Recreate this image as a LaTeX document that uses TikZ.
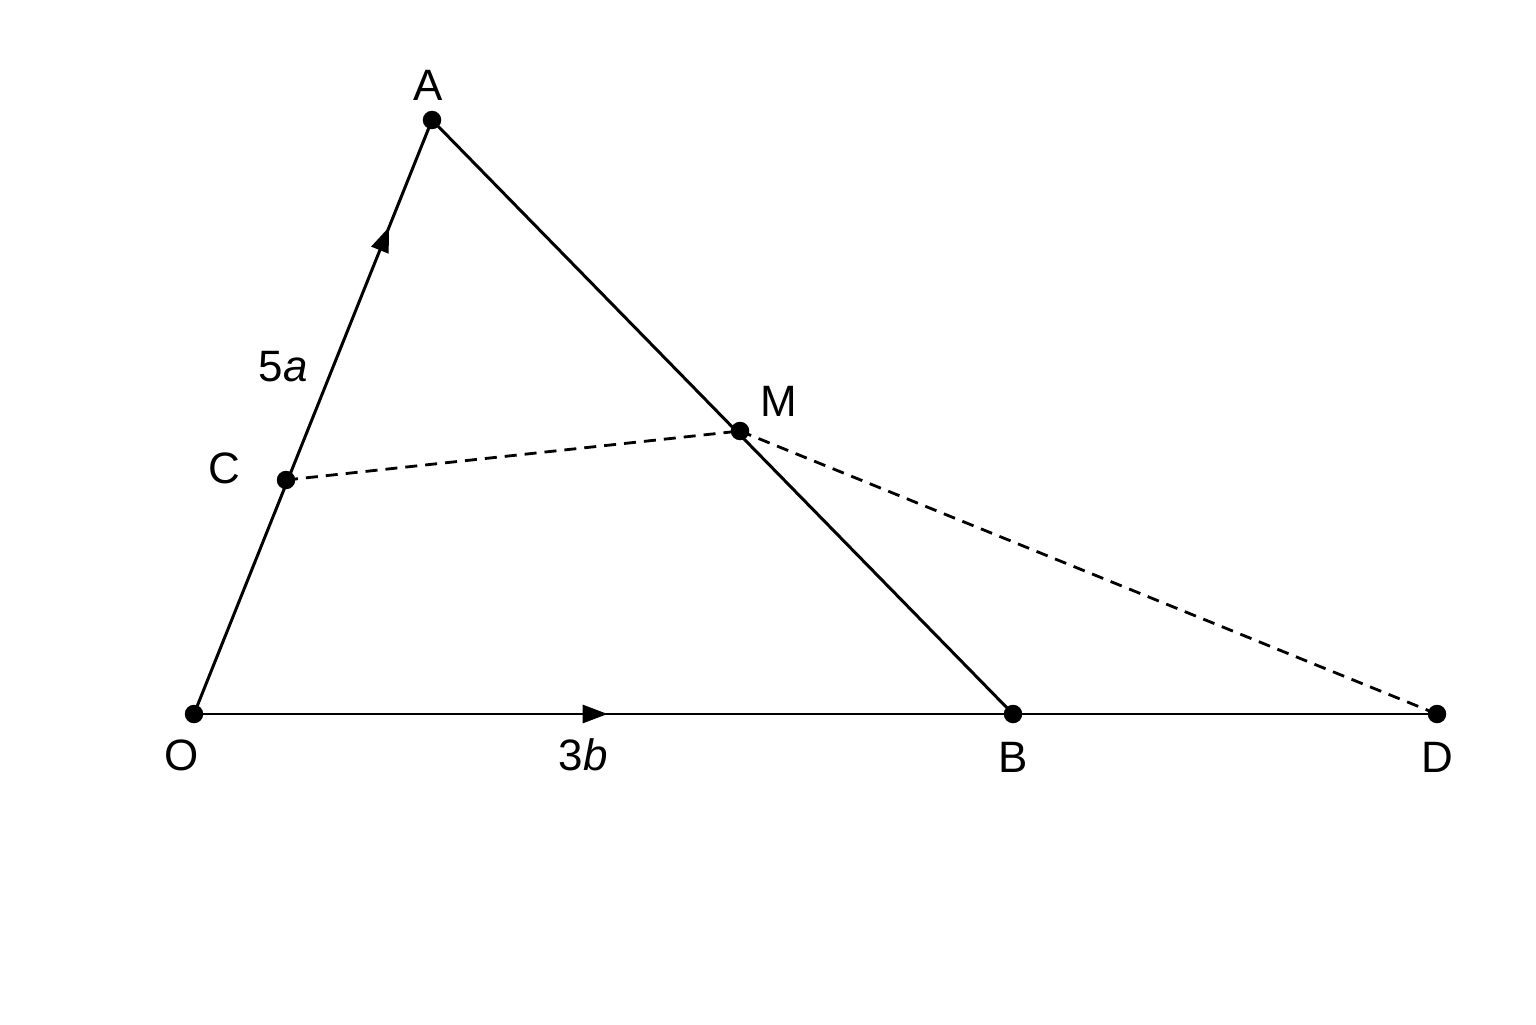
\documentclass[tikz,border=0pt]{standalone}
\usepackage{fontspec}
\setmainfont{Liberation Sans}
\usetikzlibrary{arrows.meta,decorations.markings}
\begin{document}
\begin{tikzpicture}[
  pt/.style={circle,fill=black,inner sep=0pt,minimum size=0.185cm},
  lbl/.style={font=\fontsize{12.5}{14}\selectfont,inner sep=0pt},
  seg/.style={line width=0.85pt},
  dsh/.style={line width=0.8pt,dash pattern=on 0.12cm off 0.08cm},
  midarrow/.style={postaction={decorate,decoration={markings,
     mark=at position #1 with {\arrow{Triangle[length=0.25cm,width=0.18cm]}}}}}
]
\useasboundingbox (0,0) rectangle (15.36,10.24);
\fill[white] (0,0) rectangle (15.36,10.24);
\coordinate (O) at (1.94,3.10);
\coordinate (A) at (4.32,9.04);
\coordinate (B) at (10.13,3.10);
\coordinate (D) at (14.37,3.10);
\coordinate (C) at (2.86,5.44);
\coordinate (M) at (7.40,5.93);
% lines
\draw[seg,midarrow=0.82] (O) -- (A);
\draw[seg] (A) -- (B);
\draw[seg,midarrow=0.505] (O) -- (B);
\draw[seg] (B) -- (D);
\draw[dsh] (C) -- (M);
\draw[dsh] (M) -- (D);
% dots
\node[pt] (dO) at (O) {};
\node[pt] (dA) at (A) {};
\node[pt] (dB) at (B) {};
\node[pt] (dD) at (D) {};
\node[pt] (dC) at (C) {};
\node[pt] (dM) at (M) {};
% labels
\node[lbl] (lA) at (4.28,9.39) {A};
\node[lbl] (lC) at (2.24,5.56) {C};
\node[lbl] (l5a) at (2.83,6.57) {5\textit{a}};
\node[lbl] (lM) at (7.79,6.23) {M};
\node[lbl] (lO) at (1.82,2.69) {O};
\node[lbl] (l3b) at (5.83,2.69) {3\textit{b}};
\node[lbl] (lB) at (10.13,2.67) {B};
\node[lbl] (lD) at (14.37,2.67) {D};
\end{tikzpicture}
\end{document}
